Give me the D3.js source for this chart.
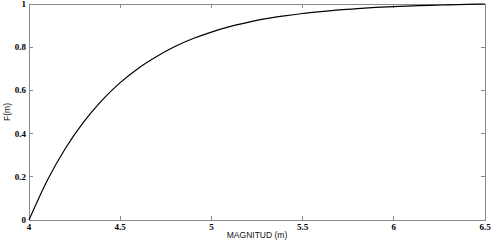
<!DOCTYPE html>
<html><head><meta charset="utf-8">
<script src="https://cdn.jsdelivr.net/npm/d3@7"></script>
<style>body{margin:0;background:#fff}svg{display:block}</style>
</head><body>
<script>
const magnitudes = [4.0,4.1,4.2,4.3,4.4,4.5,4.6,4.7,4.8,4.9,5.0,5.1,5.2,5.3,5.4,5.5,5.6,5.7,5.8,5.9,6.0,6.1,6.2,6.3,6.4,6.5];
const cdfValues = [0,0.183,0.332,0.454,0.554,0.636,0.703,0.757,0.803,0.840,0.870,0.895,0.915,0.932,0.945,0.956,0.965,0.973,0.979,0.984,0.988,0.991,0.994,0.996,0.998,1.0];
const xTicks = [4,4.5,5,5.5,6,6.5];
const xTickLabels = ["4","4.5","5","5.5","6","6.5"];
const yTicks = [0,0.2,0.4,0.6,0.8,1];
const yTickLabels = ["0","0.2","0.4","0.6","0.8","1"];
const xLabel = "MAGNITUD (m)";
const yLabel = "F(m)";

const W=496,H=248;
const L=29,R=485,T=4,B=220;
const svg=d3.select("body").append("svg").attr("width",W).attr("height",H);
const x=d3.scaleLinear().domain([4,6.5]).range([L,R]);
const y=d3.scaleLinear().domain([0,1]).range([B,T]);
const axisColor="#8a8a8a";

// frame
svg.append("rect").attr("x",L).attr("y",T).attr("width",R-L).attr("height",B-T)
  .attr("fill","none").attr("stroke",axisColor).attr("stroke-width",1).attr("shape-rendering","crispEdges");

// ticks inward on all sides
const tk=4;
const g=svg.append("g").attr("stroke",axisColor).attr("shape-rendering","crispEdges");
xTicks.forEach(v=>{
  g.append("line").attr("x1",x(v)).attr("x2",x(v)).attr("y1",B).attr("y2",B-tk);
  g.append("line").attr("x1",x(v)).attr("x2",x(v)).attr("y1",T).attr("y2",T+tk);
});
yTicks.forEach(v=>{
  g.append("line").attr("x1",L).attr("x2",L+tk).attr("y1",y(v)).attr("y2",y(v));
  g.append("line").attr("x1",R).attr("x2",R-tk).attr("y1",y(v)).attr("y2",y(v));
});

const tf="'Liberation Serif','Times New Roman',serif";
svg.append("g").selectAll("text").data(xTicks).join("text")
  .attr("x",d=>x(d)).attr("y",B+10).attr("text-anchor","middle")
  .attr("font-family",tf).attr("font-weight","bold").attr("font-size",9).attr("fill","#000")
  .text((d,i)=>xTickLabels[i]);
svg.append("g").selectAll("text").data(yTicks).join("text")
  .attr("x",L-3).attr("y",d=>y(d)+3).attr("text-anchor","end")
  .attr("font-family",tf).attr("font-weight","bold").attr("font-size",9).attr("fill","#000")
  .text((d,i)=>yTickLabels[i]);

svg.append("text").attr("x",(L+R)/2).attr("y",238).attr("text-anchor","middle")
  .attr("font-family","'Liberation Sans',Arial,sans-serif").attr("font-size",8.5).attr("fill","#111")
  .text(xLabel);
svg.append("text").attr("transform",`translate(10,${(T+B)/2}) rotate(-90)`).attr("text-anchor","middle")
  .attr("font-family","'Liberation Sans',Arial,sans-serif").attr("font-size",8.5).attr("fill","#111")
  .text(yLabel);

const line=d3.line().x((d,i)=>x(magnitudes[i])).y(d=>y(d)).curve(d3.curveMonotoneX);
svg.append("path").datum(cdfValues).attr("d",line).attr("fill","none")
  .attr("stroke","#000").attr("stroke-width",1.2);
</script>
</body></html>
